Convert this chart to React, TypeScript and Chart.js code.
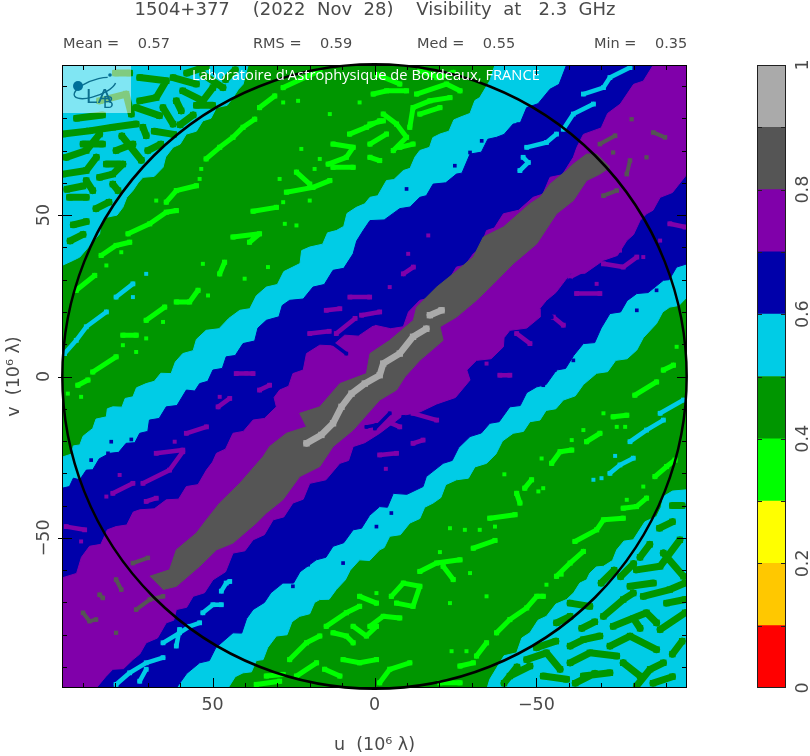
import React, { useEffect, useRef } from "react";
import { Chart, registerables } from "chart.js";

Chart.register(...registerables);

type P = [number, number];

const titleText = "1504+377    (2022  Nov  28)    Visibility  at   2.3  GHz";
const statLabels = ["Mean =    0.57", "RMS =    0.59", "Med =    0.55", "Min =    0.35"];
const overlayText = "Laboratoire d'Astrophysique de Bordeaux, FRANCE";
const uTicks = [50, 0, -50];
const vTicks = [50, 0, -50];
const minorTicks = [-90, -80, -70, -60, -40, -30, -20, -10, 10, 20, 30, 40, 60, 70, 80, 90];
const barTicks = [0, 0.2, 0.4, 0.6, 0.8, 1];
const barSteps = [0.1, 0.2, 0.3, 0.4, 0.5, 0.6, 0.7, 0.8, 0.9];
const levelWidths = [0.1, 0.1, 0.1, 0.1, 0.1, 0.1, 0.1, 0.1, 0.1, 0.1];
const levelColors = ["#FF0000", "#FFC800", "#FFFF00", "#00FF00", "#009600", "#00CCE6", "#0000AA", "#8000AA", "#555555", "#AAAAAA"];
const extent = 96.5;
const coverageRadius = 96.4;

const cornerEdgeUpper: P[] = [[96.5,34.4],[93,36],[91,37],[88,40.5],[84.9,44.2],[84.5,47],[82.8,49.3],[79.5,50],[77.7,52.4],[76.5,55.5],[74.6,57.6],[73,60],[71.5,61.7],[68,62],[65.3,64.8],[64.5,68],[62.2,71],[60,72],[58.1,75.1],[55,76],[53,79.2],[50.5,80],[48.8,83.3],[45.5,84],[43.7,86.4],[42,89],[40.6,90.5],[39,96.5]];
const cornerEdgeLower: P[] = [[-96.4,-35.1],[-92,-35.5],[-89.2,-37.2],[-88.5,-40.5],[-87.1,-43.4],[-83.5,-45],[-79.9,-50.6],[-77,-51],[-74.8,-53.7],[-73.5,-57],[-70.7,-58.8],[-68.5,-59],[-66.5,-60.9],[-65.5,-63],[-63.4,-64],[-61.5,-67],[-59.3,-69.1],[-56,-70.5],[-53.1,-74.3],[-50.5,-75.5],[-48,-79.4],[-45.5,-81],[-43.9,-85.6],[-40,-86.5],[-35.6,-93.8],[-34.8,-96.5]];
const cyanEdgeUpper: P[] = [[96.5,-25],[93.5,-24],[93,-21.5],[91,-21.2],[90,-18.5],[87,-16.1],[86,-13.2],[82.8,-12.5],[82.5,-10],[80.8,-9.4],[78,-9.5],[77,-6.8],[74.6,-6.3],[73.5,-3.5],[70.5,-2.2],[68,-1.5],[66,1],[62.8,0.9],[61.5,4.5],[59.2,7.1],[56,8],[55,11.5],[52,14.3],[48,14.8],[45,18],[41.6,20.5],[38.5,21],[36.5,25],[33.4,27.7],[30,28.5],[28,32.5],[25.2,33.9],[23,35],[22.5,39],[20,40.1],[16,41],[14.5,44.5],[11.8,45.2],[9.5,46.5],[8.5,50.5],[5.6,52.4],[3,53.5],[1.4,55.5],[-1,56],[-3.7,60.7],[-6,61],[-8.9,63.8],[-11,64.5],[-12.5,68],[-14,70],[-17,71],[-18,74],[-20.2,75.1],[-23,76],[-24.5,79.5],[-26.4,80.3],[-29.5,81.5],[-31,85.5],[-32.5,86.4],[-35.6,91.6],[-37.2,96.5]];
const cyanEdgeLower: P[] = [[45.2,-96.5],[43,-93],[40.6,-91.8],[38,-91.5],[36.5,-88],[34.4,-87.7],[33,-84],[30.3,-80.4],[27,-80],[25.5,-76],[23.1,-74.3],[20,-73.5],[18.5,-70],[16.9,-69.1],[14,-69],[11.8,-66],[9,-63],[7.5,-60],[4.6,-56.8],[1.5,-57],[-1.6,-53.7],[-3,-53],[-4.7,-49.5],[-8,-49],[-10.9,-45.4],[-14,-44],[-15.5,-40.5],[-18.1,-39.2],[-20.5,-37.5],[-22,-33.5],[-25.3,-32],[-29,-31.5],[-31,-28],[-34.6,-26.9],[-37.5,-24],[-39.5,-20],[-42.8,-17.6],[-46,-17],[-48,-14],[-51.1,-13.5],[-53,-10.5],[-56,-10],[-58.3,-7.3],[-62,-6],[-64.5,-2.5],[-68.6,1],[-72,1.5],[-74.5,5],[-78,5.5],[-81,8.2],[-83,12],[-87.1,16.4],[-89,20],[-91.2,21.5],[-94,22],[-96.5,24.6]];
const blueEdgeUpper: P[] = [[96.5,-34.6],[94.2,-34.1],[93,-31.5],[91,-32],[89,-29],[87,-28.9],[85,-25.5],[81.8,-23.8],[79,-23.5],[76.7,-20.7],[74,-20.5],[72.5,-17.6],[70,-17],[69.5,-13.5],[66.5,-13],[64.3,-9.4],[61,-9],[58.1,-4.2],[55.5,-4.5],[54,-2.2],[51.5,-1.5],[49.9,2],[47,2.5],[45.8,6.1],[43,6.5],[40.6,10.2],[37,11],[36,15],[33.4,17.4],[29.5,18.5],[28.5,22],[26.2,23.6],[22,24],[19,27.7],[15.5,28.5],[12.8,32.9],[9.5,33.5],[6.6,38],[5.5,42],[3.5,45.2],[1.4,48.3],[-3,48.5],[-7.8,52],[-11,52.5],[-14,55.5],[-16,56],[-18.1,59.6],[-22,60],[-25.3,62.7],[-27,63],[-29.5,68.9],[-33,69.5],[-35,73.5],[-37.7,74.1],[-40,75],[-42.8,78.2],[-45,78.5],[-47,83.3],[-50.5,84.5],[-54.2,89],[-57,90.5],[-59.3,96.5]];
const blueEdgeLower: P[] = [[61.2,-96.5],[58,-92],[54,-88.7],[51,-88],[49,-84],[43.7,-79.4],[41,-79.5],[39.5,-75],[37.5,-72.2],[34,-70],[32,-67],[28.3,-64],[25,-64],[23,-60.5],[18,-56.8],[15,-56],[12.8,-52.6],[9.5,-51.5],[6.6,-47.5],[4,-47],[1.5,-43],[-1.6,-40.3],[-4,-40.5],[-5.8,-36.2],[-10,-36.5],[-15,-34.1],[-16,-31],[-21.2,-26.9],[-24,-26],[-26,-22],[-29.5,-18.6],[-33,-17.5],[-35.6,-14.5],[-38.5,-14],[-41.8,-9.4],[-45,-9],[-47,-5],[-50.1,-3.2],[-53,-2.5],[-56.2,2],[-59,2.5],[-61.5,6.5],[-64.5,10.2],[-68,10.5],[-70,15],[-72.7,19.5],[-76,20],[-78,23.5],[-81,25.7],[-84.5,26],[-89.2,29.8],[-91,30],[-93.3,33.9],[-96.5,34.9]];
const purpleEdgeUpper: P[] = [[96.5,-62.4],[92,-61],[90.5,-56],[88,-52.6],[84.5,-52],[82.5,-47.5],[79.8,-46.5],[76.5,-46],[74.5,-42],[72.5,-41.3],[68,-41],[64.3,-38.2],[60.5,-38],[58.1,-34.1],[54.5,-33.5],[51.9,-29],[50,-26.5],[48.8,-23.8],[46,-22.5],[43.7,-17.6],[40.5,-17],[37.5,-13.5],[34,-13],[30.3,-9.4],[31,-6.5],[29.3,-4.2],[26.5,-3],[25.2,0.9],[22,2],[21,7.1],[16.9,9.7],[13,9.5],[9.2,12.8],[5,12.5],[0,15.9],[-5,14.8],[-8.9,15.4],[-10.5,20],[-14,23.6],[-18,24.5],[-21.2,28.7],[-23,30],[-25.3,33.9],[-28,34.5],[-30.5,38],[-32.5,39.5],[-34.6,45.2],[-37,46],[-39.8,50.4],[-44.5,51.5],[-49,55.5],[-52,56.5],[-54.2,61.7],[-58,62.5],[-61.4,67.9],[-62.5,71],[-64.5,75],[-70,77],[-72,81.5],[-75.9,84.4],[-80,90.5],[-83,91.5],[-86.1,96.5]];
const purpleEdgeLower: P[] = [[85.9,-96.5],[83,-93],[80.8,-90.7],[77.5,-90.5],[74.6,-87.7],[72.5,-86],[70.5,-82.5],[67,-81],[64.3,-76.3],[62,-75.5],[61.2,-72.2],[58,-71.5],[56,-68.1],[52.5,-67],[49.9,-63],[46,-60.5],[43.7,-54.7],[40,-54],[37.5,-50.6],[34,-49],[31.3,-44.4],[28,-43.5],[25.2,-39.2],[22,-38],[20,-33.1],[15,-32],[10.7,-26.9],[8,-26],[6.6,-21.7],[3,-20.5],[-1.6,-17.6],[-5,-15],[-8.9,-12],[-14,-11],[-19.2,-8.5],[-25,-6.5],[-29.5,-1.1],[-28.5,2],[-31.5,5],[-36,5.5],[-39.8,9.2],[-40,12],[-41.8,14.3],[-47,15],[-51.1,18.4],[-51,21],[-53.1,23.6],[-56,26],[-60.4,31.8],[-65,32],[-70.7,36],[-75,37.5],[-77.9,42.1],[-80,44],[-82,48.3],[-84,50.4],[-86,51.5],[-88.2,55.5],[-92,57],[-96.5,62.7]];
const ridgeOutline: P[] = [[69.4,-61.9],[63.3,-59.9],[61.2,-53.7],[55,-48.5],[51.9,-44.4],[47.8,-39.2],[41.6,-33.1],[34.4,-24.8],[32.4,-21.7],[27.2,-17.6],[21,-15.6],[23.1,-11.4],[16.9,-9.4],[10.7,-2.2],[2.5,0.9],[1.4,7.1],[-4.7,11.2],[-12,17.4],[-13,21.5],[-19.2,27.7],[-24.3,31.8],[-30.5,37],[-33.6,43.2],[-39.8,46.3],[-48,53.5],[-51.1,55.5],[-54.2,59.6],[-59.3,63.8],[-61.4,65.8],[-65.5,68.9],[-68.6,68.9],[-72.7,64.8],[-69.6,62.7],[-65.5,60.7],[-61.4,54.5],[-56.2,50.4],[-50.1,41.1],[-42.8,34.9],[-36.7,28.7],[-31.5,23.6],[-25.3,18.4],[-20.2,15.4],[-21.2,11.2],[-14,5],[-9.4,-0.1],[-6.8,-4.2],[-1.6,-7.3],[6.6,-16.6],[12.8,-21.7],[16.9,-27.9],[23.1,-31],[28.3,-38.2],[33.4,-42.3],[36.5,-45.4],[43.7,-51.6],[48.8,-53.7],[54,-58.8],[61.2,-65],[65.3,-66]];

const cornerGreenStreaks: P[][] = [
  [[80,94],[75.6,94]],[[84.9,85.4],[76.7,87.5],[75.1,81.3]],[[96.2,75.1],[88,76.1],[80.8,77.2],[73.6,78.2]],[[72.5,92.6],[64.3,91.6],[67.4,86.4],[72.5,85.4]],[[62.2,92.6],[55,90.6]],[[61.2,85.4],[59.7,82.3]],[[73.6,83.3],[66.4,80.8]],[[95.2,67.9],[89,70],[84.9,75.1]],[[71.5,77.2],[70.5,74.6]],[[79.8,70],[74.6,72]],[[96.2,62.7],[89,63.8],[85.9,67.9]],[[84.9,61.7],[80.8,62.7],[77.7,65.8]],[[82.8,65.8],[78.7,65.8]],[[94.2,55.5],[89,55.5]],[[89,60.7],[87,57.6]],[[80.8,59.6],[79.2,57.6]],[[59.2,88.5],[53,85.4],[49.9,89.5]],[[65.3,83.3],[62.2,78.2]],[[53,93.6],[46.8,89.5]],
  [[90,72],[84,72]],[[78,74.5],[72,67]],[[70,70],[66,72]],[[92,80],[84,81]],[[68,76],[62,75]],[[60,78],[56,81]],[[50,84],[55,84]],[[46,92],[43,95]],[[58,94],[52,96]],[[95,58],[90,59]],[[86,52],[82,54]],[[93,47],[89,48]],[[94,42],[90,44]],
  [[-80.9,-59.9],[-88.2,-58.8],[-94.3,-50.6]],[[-89.2,-54.7],[-95.4,-61.9]],[[-78.9,-65],[-86.1,-64]],[[-70.7,-74.3],[-76.8,-69.1],[-79.9,-67.1]],[[-83,-68.1],[-91.2,-66],[-95.9,-64]],[[-73.7,-77.4],[-84,-73.2],[-87.1,-76.3]],[[-88.2,-78.4],[-95.9,-73.2]],[[-60.4,-83.5],[-64.5,-81.5],[-69.6,-80.4]],[[-72.7,-83.5],[-78.9,-80.4],[-87.1,-84.6]],[[-56.2,-76.3],[-60.4,-74.3]],[[-60.4,-70.2],[-66.5,-71.2]],[[-47,-87.7],[-53.1,-85.6],[-57.3,-90.7]],[[-60.4,-88.7],[-66.5,-85.6],[-74.8,-86.6]],[[-76.8,-88.7],[-82,-92.8]],[[-41.8,-92.8],[-48,-89.7]],[[-52.1,-92.8],[-59.3,-93.8]],[[-64.5,-92.8],[-72.7,-91.8]],[[-80.9,-95.9],[-85.1,-90.7],[-89.2,-88.7]],[[-90.2,-70.2],[-95.9,-69.1]],
  [[-70,-64],[-74,-60]],[[-82,-56],[-85,-52]],[[-92,-45],[-88,-47]],[[-68,-76],[-64,-78]],[[-92,-86],[-95,-82]],[[-56,-82],[-50,-84]],[[-82,-78],[-80,-75]],[[-68,-92],[-62,-95]],[[-92,-93],[-86,-95]],[[-44,-90],[-40,-95]],[[-76,-62],[-80,-58]],[[-95,-40],[-92,-40]],
];
const limeStreaks: P[][] = [
  [[84.4,37.5],[79.8,40.6],[75.6,41.6]],[[76.1,44.2],[69.4,47.3],[64.3,50.9],[61.2,51.4]],[[64.3,54],[61.2,57.6],[55,59.1]],[[52,67.4],[47.8,71],[43.7,74.1],[40.6,77.2],[37,79.7]],[[35.5,83.3],[30.8,86.9]],[[28.2,89.5],[16.9,94.7]],[[92.1,26.7],[86.4,31.3]],[[27.2,57.1],[19,58.6],[13.8,60.7]],[[24.1,63.3],[20,59.6]],[[37.5,51.2],[30.3,52.4]],[[14.3,65.8],[8.7,67.9],[6.6,71],[12.8,72]],[[12.8,64.8],[6.6,64.8]],[[7.7,75.1],[2.5,77.2],[-1.6,79.2]],[[61.2,23.1],[57.1,23.1],[54.5,26.7]],[[70.5,17.4],[64.8,21.5]],[[47.8,31.8],[46.3,35.4]],[[43.7,43.2],[35.5,44.2],[38.6,41.6]],[[87,1.4],[79.8,6.1]],[[77.7,12.8],[73.6,12.8]],
  [[0.4,87.5],[-3.7,88.5],[-9.9,88.5]],[[-2.7,81.3],[-6.8,78.2],[-9.9,74.1],[-5.8,70]],[[-10.9,77.2],[-11.9,83.3],[-17.1,85.4],[-23.3,86.4]],[[-13,87.5],[-22.2,90.6],[-26.4,88.5]],[[-14,81.3],[-20.2,83.3]],[[1.4,72],[-3.7,75.1]],[[1.4,67.9],[-1.6,66.9]],[[1.4,78.2],[-2.7,79.2]],[[-7.8,71],[-11.9,72]],[[-14,94.7],[-20.2,92.6]],[[-19.2,92.6],[-24.3,94.2]],[[-0.6,93.6],[-7.8,90.6]],
  [[-14,-60.4],[-19.2,-57.8],[-26.4,-56.8]],[[-21.2,-58.8],[-24.3,-62.9]],[[-30.5,-53.2],[-37.2,-50.8]],[[-37.7,-79.4],[-41.8,-75.3],[-47,-71.7],[-50.1,-68.1],[-52.1,-68.1]],[[-56.2,-61.9],[-60.4,-57.8],[-64.5,-54.2]],[[-61.9,-51.1],[-68.6,-47.5],[-70.7,-44.4],[-76.8,-43.9]],[[-76.8,-40.8],[-80.9,-40.3],[-84,-37.7]],[[-86.6,-31],[-90.2,-27.9],[-92.8,-25.9]],[[-54.7,-26.9],[-57.3,-23.3],[-60.9,-22.8]],[[-65.5,-20.2],[-69.6,-17.6]],[[-73.7,-12.5],[-77.9,-12]],[[-80.4,-5.8],[-87.1,-1.7]],[[-35.6,-43.9],[-43.4,-42.8]],[[-46.4,-34.6],[-48.5,-32]],[[-43.9,-36.2],[-44.9,-39.2]],[[1.4,-77.4],[-2.7,-74.3],[-7.8,-74.8]],[[-5.2,-68.1],[-8.9,-64],[-14,-65],[-11.9,-71.2],[-6.8,-70.2]],[[-31.5,-86.6],[-34.6,-82.5]],[[-26.4,-89.7],[-30.5,-88.7]],[[-1.6,-94.9],[-4.7,-90.7],[-10.9,-88.7]],[[-20.2,-94.9],[-26.4,-94.9]],[[-89.2,2],[-92.3,3.5]],
  [[36.5,-95.4],[29.3,-94.4]],[[33.4,-92.8],[28.2,-92.3]],[[26.2,-87.7],[21,-82.5],[16.9,-80.4]],[[24.1,-92.8],[17.9,-88.7]],[[14.9,-77.4],[8.7,-73.2],[4.6,-71.2]],[[12.8,-79.4],[8.7,-80.4],[6.6,-82.5]],[[6.6,-77.4],[2.5,-80.4],[-0.6,-77.4]],[[9.7,-87.7],[4.6,-88.7],[-0.6,-87.7]],[[15.4,-90.7],[10.7,-92.8]],[[4.6,-68.1],[-0.6,-70.2]],[[91.6,-2.7],[88.5,-1.1]],
];
const limeDots: P[] = [[53.5,64.3],[54,61.2],[27.7,47.3],[24.1,46.8],[40.1,30.3],[51.4,25.1],[70.5,11.8],[65.3,16.9],[77.7,9.7],[73.6,7.6],[67.4,54.5],[78.2,38.5],[82.8,34.4],[28.2,54],[20,54.5],[23.6,85.4],[28.2,84.9],[4.6,84.9],[13.8,81.3],[22.6,70.5],[16.9,67.4],[18.5,64.3],[32.9,33.9],[53,34.9],[29.3,61.2],[-40.1,-30.3],[-23.3,-47],[-27.9,-47.5],[-20.2,-54.4],[-51.6,-25.4],[-52.1,-34.6],[-50.6,-35.6],[-74.8,-15.6],[-77.4,-15.6],[-70.7,-11.4],[-64.5,-16.6],[-60.9,-19.7],[-57.8,-61.4],[-53.1,-64.5],[-29.5,-60.9],[-34.6,-68.1],[-23.8,-85.1],[-28.4,-85.1],[-83,-34.1],[-77.9,-38.2],[-0.6,-67.1],[-23.3,-70.2],[-32.5,-47.5],[-37.2,-46.5],[-93.3,9.2],[94.7,-5.3],[90.6,-6.3]];
const cyanStreaks: P[][] = [
  [[95.7,7.1],[92.1,11.2],[89,15.4],[82.8,20]],[[79.8,24.6],[74.6,28.7]],[[-78.9,-20.2],[-84,-16.6],[-89.2,-13.5]],[[-88.2,-11.4],[-95.4,-7.3]],[[-72.7,-30],[-75.8,-27.4],[-79.9,-25.3]],
];
const cyanInBlueStreaks: P[][] = [
  [[79.8,-95.4],[75.6,-91.8],[70.5,-88.7],[65.3,-87.1]],[[65.3,-82.5],[60.2,-79.4],[57.1,-77.4],[54,-76.3]],[[72.5,-94.4],[70.5,-90.7]],[[53,-73.2],[49.9,-70.7],[47.3,-70.7]],[[47.3,-66.5],[45.8,-64],[44.7,-63.5]],[[60.2,-78.4],[61.2,-83.5]],
  [[-47,71],[-53.1,72.5],[-56.2,75.1]],[[-58.3,76.6],[-61.4,81.3],[-67.6,84.4]],[[-64.5,87.5],[-70.7,89.5],[-72.7,92.6],[-78.9,95.7]],[[-45.9,67.9],[-47.5,66.3],[-44.9,63.8]],
];
const cyanDots: P[] = [[70.5,31.8],[74.6,24.6],[-74.3,-24.6],[-67.6,-32],[-70.1,-31.5],[-55.2,77.2]];
const blueDots: P[] = [[87.5,-25.9],[81.3,-20.2],[75.1,-19.5],[82.3,-23.8],[-24.8,65.3],[-29.5,69.4],[-33.1,73],[-44.4,78.2],[-9.9,58.1],[-20.7,58.3],[25.2,-65],[20.5,-58.3],[9.7,-57.8],[-5.2,-42.3],[-0.6,-46.5],[-32.5,-16.6],[-52.1,-2.7],[-81,20.5],[-87.1,26.7],[-55.7,2],[-61.4,5],[77.2,-46.1]];
const blueStreaks: P[][] = [[[0.4,16.4],[-0.6,18.4]],[[-53.1,21],[-54.7,18.4]],[[-60.4,29.8],[-63.4,28.7]],[[-0.1,-16.1],[-4.7,-11.4]],[[-8.9,-12.5],[-13,-13.5]],[[12.8,10.2],[8.7,7.1]],[[2.5,-15.6],[-0.6,-15]]];
const purpleStreaks: P[][] = [[[80.8,-36.2],[74.6,-33.1]],[[71.5,-33.1],[63.3,-29],[59.2,-23.3]],[[67.4,-23.8],[59.2,-22.8]],[[58.1,-17.6],[51.9,-15.6]],[[48.3,-9.4],[44.7,-6.8]],[[95.2,-46.5],[89.5,-47.5]],[[42.7,0.9],[37.5,0.9]],[[70.5,-38.7],[67.4,-37.7]],[[35.5,-4.2],[32.4,-2.7]],[[7.6,24.6],[1.5,24.6]],[[14.9,20.5],[10.7,21]],[[20,13.3],[14,14]],[[11.8,13.3],[6,18]],[[4,19],[-1.6,20]],[[-8.9,31.8],[-12,33.9]],[[-70.7,34.9],[-76.8,33.9],[-81,37]],[[-60.4,30.8],[-64.5,32.9]],[[-55.2,18.4],[-58.3,15.9]],[[-43.9,13.3],[-48,10.2]],[[-91.2,47.3],[-95.9,46.3]],[[-62.4,25.7],[-69.6,25.7]],[[-1.6,-24.3],[-6.8,-23.8]],[[-11.9,-20.7],[-15,-19.7]],[[-0.6,-12.5],[-7.8,-15.6]],[[-11.9,-11.4],[-19.2,-13.5]],[[-38.7,0.4],[-41.8,0.4]]];
const purpleDots: P[] = [[82.8,-37.2],[90.6,-51.1],[47.8,-6.3],[61.7,-20.2],[78.7,-30.5],[39.6,1],[-4.7,27.7],[-10.4,38],[-16.6,43.7],[-34.6,4],[-68.6,28.7],[-83,37],[-88.2,42.1],[-75.8,39],[-3.5,-28.6]];
const darkStreaks: P[][] = [[[74.6,-57.8],[70,-56.2]],[[73.6,-72.2],[69.4,-69.1],[65.3,-68.1]],[[90,-73.2],[88,-75.8],[86,-75.3]],[[79.8,-62.9],[78.2,-66]],[[84.9,-67.6],[83.9,-68.6]],[[-69.6,72],[-74.3,74.6]],[[-86.1,75.6],[-89.7,74.1]],[[-78.9,66.9],[-77.9,62.7]],[[-70.7,56],[-74.8,57.6]]];
const darkDots: P[] = [[79.8,-79.4],[-79.4,79.7],[-84,67.9],[-73.7,69.4]];
const lightStreaks: P[][] = [[[21,-20.7],[16.4,-18.1],[12.8,-14.5],[10.2,-9.4],[7.1,-5.3],[3,-2.2],[-1.6,0.4],[-2.7,4],[-7.8,7.1],[-11.9,12.3],[-16,14.8]],[[-17.1,19],[-20.7,20.5]]];

const mainFont = "'DejaVu Sans'";
const inkColor = "#4A4A4A";

const polygon = (pts: P[], color: string) => ({
  type: "scatter", showLine: true, fill: "shape", backgroundColor: color, borderColor: color, borderWidth: 1,
  pointRadius: 0, tension: 0, data: pts.map(([x, y]) => ({ x, y })),
});
const streaks = (chains: P[][], color: string, width: number, lump: number) => ({
  type: "scatter", showLine: true, fill: false, borderColor: color, backgroundColor: color, borderWidth: width,
  borderCapStyle: "round", borderJoinStyle: "round", pointRadius: lump, pointBorderWidth: 0, pointStyle: "rect", spanGaps: false, tension: 0,
  data: chains.flatMap((c) => [...c.map(([x, y]) => ({ x, y })), { x: NaN, y: NaN }]),
});
const dots = (pts: P[], color: string, radius: number) => ({
  type: "scatter", showLine: false, backgroundColor: color, borderColor: color, borderWidth: 0, pointStyle: "rect",
  pointRadius: radius, data: pts.map(([x, y]) => ({ x, y })),
});
const band = (upper: P[], lower: P[]): P[] => [...upper, [-extent, extent], ...[...lower].reverse(), [extent, -extent]];

const [, , , LIME, GREEN, CYAN, BLUE, PURPLE, DARK, LIGHT] = levelColors;

const layers: any[] = [
  polygon([[extent, extent], [-extent, extent], [-extent, -extent], [extent, -extent]], GREEN),
  polygon([...cornerEdgeUpper, [extent, extent]], CYAN),
  polygon([...cornerEdgeLower, [-extent, -extent]], CYAN),
  streaks(cornerGreenStreaks, GREEN, 7, 4.5),
  streaks(limeStreaks, LIME, 5, 3.6),
  dots(limeDots, LIME, 2.8),
  streaks(cyanStreaks, CYAN, 4.5, 3.4),
  dots(cyanDots, CYAN, 2.8),
  polygon(band(cyanEdgeUpper, cyanEdgeLower), CYAN),
  polygon(band(blueEdgeUpper, blueEdgeLower), BLUE),
  streaks(cyanInBlueStreaks, CYAN, 4.5, 3.4),
  dots(blueDots, BLUE, 2.6),
  streaks(purpleStreaks, PURPLE, 4.5, 3.4),
  dots(purpleDots, PURPLE, 2.8),
  polygon(band(purpleEdgeUpper, purpleEdgeLower), PURPLE),
  streaks(blueStreaks, BLUE, 3.5, 2.6),
  streaks(darkStreaks, DARK, 4, 3.2),
  dots(darkDots, DARK, 3),
  polygon(ridgeOutline, DARK),
  streaks(lightStreaks, LIGHT, 6.5, 4.5),
  {
    type: "scatter", showLine: false, data: [{ x: 0, y: 0 }], backgroundColor: "transparent", borderColor: "#000000",
    borderWidth: 2.5, clip: false,
    pointRadius: (ctx: any) => {
      const s = ctx.chart.scales.x;
      return Math.abs(s.getPixelForValue(coverageRadius) - s.getPixelForValue(0));
    },
  },
];

const framePlugin = {
  id: "frame",
  afterDatasetsDraw(chart: any) {
    const { ctx, chartArea: a, scales } = chart;
    ctx.save();
    ctx.fillStyle = "rgba(255,255,255,0.5)";
    ctx.fillRect(a.left + 1, a.top, 68, 48);
    ctx.strokeStyle = "#0B6F8F";
    ctx.lineWidth = 1.4;
    ctx.beginPath(); ctx.ellipse(a.left + 33, a.top + 23, 22, 8, -0.35, 0.3, Math.PI * 1.75); ctx.stroke();
    ctx.fillStyle = "#006F99";
    ctx.beginPath(); ctx.arc(a.left + 16, a.top + 21, 5, 0, Math.PI * 2); ctx.fill();
    ctx.beginPath(); ctx.arc(a.left + 48, a.top + 10, 1.8, 0, Math.PI * 2); ctx.fill();
    ctx.fillStyle = "#0B6F8F";
    ctx.font = "21px 'Liberation Sans'";
    ctx.textAlign = "left"; ctx.textBaseline = "alphabetic";
    ctx.fillText("LA", a.left + 24, a.top + 38);
    ctx.font = "16px 'Liberation Sans'";
    ctx.fillText("B", a.left + 41, a.top + 43);
    ctx.fillStyle = "#FFFFFF";
    ctx.font = "14.7px 'Open Sans'";
    ctx.textBaseline = "middle";
    ctx.fillText(overlayText, 192, 76);

    ctx.strokeStyle = "#000000";
    ctx.lineWidth = 1;
    const x = scales.x, y = scales.y;
    const tickLines = (vals: number[], inner: number, outerLeft: number) => {
      ctx.beginPath();
      for (const v of vals) {
        const px = Math.round(x.getPixelForValue(v)) + 0.5;
        const py = Math.round(y.getPixelForValue(v)) + 0.5;
        ctx.moveTo(px, a.bottom); ctx.lineTo(px, a.bottom - inner);
        ctx.moveTo(px, a.top); ctx.lineTo(px, a.top + inner);
        ctx.moveTo(a.left - outerLeft, py); ctx.lineTo(a.left + inner, py);
        ctx.moveTo(a.right, py); ctx.lineTo(a.right - inner, py);
      }
      ctx.stroke();
    };
    tickLines(minorTicks, 5, 0);
    tickLines(uTicks, 10, 4);
    ctx.strokeRect(a.left + 0.5, a.top + 0.5, a.right - a.left - 1, a.bottom - a.top - 1);

    ctx.fillStyle = inkColor;
    ctx.font = `14.5px ${mainFont}`;
    ctx.textBaseline = "middle";
    statLabels.forEach((s, i) => ctx.fillText(s, [63, 253, 417, 594][i], 44));
    ctx.restore();
  },
};

const barPlugin = {
  id: "barFrame",
  afterDatasetsDraw(chart: any) {
    const { ctx, chartArea: a, scales } = chart;
    ctx.save();
    ctx.strokeStyle = "#202020";
    ctx.lineWidth = 1;
    ctx.beginPath();
    for (const v of barSteps) {
      const py = Math.round(scales.y.getPixelForValue(v)) + 0.5;
      ctx.moveTo(a.left, py); ctx.lineTo(a.left + 5, py);
      ctx.moveTo(a.right - 5, py); ctx.lineTo(a.right, py);
    }
    ctx.stroke();
    ctx.strokeRect(a.left + 0.5, a.top + 0.5, a.right - a.left - 1, a.bottom - a.top - 1);
    ctx.restore();
  },
};

const noGrid = { display: false, drawTicks: false };

export default function App() {
  const mainRef = useRef<HTMLCanvasElement>(null);
  const barRef = useRef<HTMLCanvasElement>(null);
  useEffect(() => {
    const n = layers.length;
    const chart = new Chart(mainRef.current!, {
      type: "scatter",
      data: { datasets: layers.map((d, i) => ({ ...d, order: n - i })) },
      plugins: [framePlugin],
      options: {
        responsive: false, animation: false, maintainAspectRatio: false,
        layout: { padding: 0 },
        events: [],
        plugins: {
          legend: { display: false }, tooltip: { enabled: false },
          title: {
            display: true, text: titleText, color: inkColor,
            font: { family: mainFont, size: 18, weight: "normal", lineHeight: 1.2 },
            padding: { top: 0, bottom: 43.4 },
          },
        },
        scales: {
          x: {
            type: "linear", reverse: true, min: -extent, max: extent, grid: noGrid, border: { display: false },
            afterBuildTicks: (s: any) => { s.ticks = uTicks.map((value) => ({ value })); },
            afterFit: (s: any) => { s.height = 68; },
            ticks: { color: inkColor, font: { family: mainFont, size: 17.5 }, padding: 7, maxRotation: 0, callback: (v: any) => String(v).replace("-", "\u2212") },
            title: { display: true, text: "u  (10\u2076 \u03BB)", color: inkColor, font: { family: mainFont, size: 17.5, weight: "normal" }, padding: { top: 0, bottom: 0 } },
          },
          y: {
            type: "linear", min: -extent, max: extent, grid: noGrid, border: { display: false },
            afterBuildTicks: (s: any) => { s.ticks = vTicks.map((value) => ({ value })); },
            afterFit: (s: any) => { s.width = 62; },
            ticks: { color: inkColor, font: { family: mainFont, size: 17.5 }, padding: -1, minRotation: 90, maxRotation: 90, crossAlign: "center", callback: (v: any) => String(v).replace("-", "\u2212") },
            title: { display: true, text: "v  (10\u2076 \u03BB)", color: inkColor, font: { family: mainFont, size: 17.5, weight: "normal" }, padding: { top: 4, bottom: 0 } },
          },
          margin: {
            type: "linear", position: "right", min: 0, max: 1, grid: noGrid, border: { display: false },
            ticks: { display: false },
            afterFit: (s: any) => { s.width = 63; },
          },
        },
      } as any,
    } as any);
    const bar = new Chart(barRef.current!, {
      type: "bar",
      data: {
        labels: ["level"],
        datasets: levelWidths.map((w, i) => ({ data: [w], backgroundColor: levelColors[i], borderWidth: 0, barPercentage: 1, categoryPercentage: 1 })),
      },
      plugins: [barPlugin],
      options: {
        responsive: false, animation: false, maintainAspectRatio: false, events: [],
        layout: { padding: { left: 7, right: 0, top: 65, bottom: 68 } },
        plugins: { legend: { display: false }, tooltip: { enabled: false }, title: { display: false } },
        scales: {
          x: { stacked: true, display: false },
          y: {
            stacked: true, position: "right", min: 0, max: 1, grid: noGrid, border: { display: false },
            afterBuildTicks: (s: any) => { s.ticks = barTicks.map((value) => ({ value })); },
            afterFit: (s: any) => { s.width = 24; },
            ticks: { color: inkColor, font: { family: mainFont, size: 17.5 }, padding: 4, minRotation: 90, maxRotation: 90, crossAlign: "center", callback: (v: any) => String(v) },
          },
        },
      } as any,
    } as any);
    return () => { chart.destroy(); bar.destroy(); };
  }, []);
  return (
    <div style={{ position: "fixed", left: 0, top: 0, width: 810, height: 756, background: "#fff" }}>
      <canvas ref={mainRef} width={750} height={756} style={{ position: "absolute", left: 0, top: 0 }} />
      <canvas ref={barRef} width={60} height={756} style={{ position: "absolute", left: 750, top: 0 }} />
    </div>
  );
}
